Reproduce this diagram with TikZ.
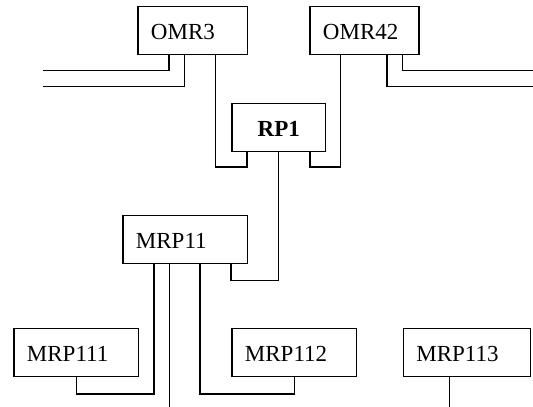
\documentclass[tikz,border=0pt]{standalone}
\usepackage{fontspec}
\setmainfont{Liberation Serif}
\begin{document}
\begin{tikzpicture}[x=1pt,y=-1pt,
  box/.style={draw, line width=1.3pt, anchor=north west, inner xsep=13pt, inner ysep=0pt,
    minimum height=48pt, text height=18.6pt, text depth=0pt, align=left,
    font=\fontsize{23}{27}\selectfont},
  wire/.style={line width=1.2pt}]
\useasboundingbox (0,0) rectangle (533,407);
\node[box, text width=83.7pt] (omr3) at (137.3,6) {OMR3};
\node[box, text width=83pt] (omr42) at (309.3,6) {OMR42};
\node[box, text width=67.7pt, align=center, font=\fontsize{23}{27}\selectfont\bfseries] (rp1) at (231.3,103) {RP1};
\node[box, text width=98.7pt] (mrp11) at (122.3,215) {MRP11};
\node[box, text width=98.4pt] (mrp111) at (13.3,327.7) {MRP111};
\node[box, text width=98.7pt] (mrp112) at (231.3,327.7) {MRP112};
\node[box, text width=101.3pt] (mrp113) at (402.7,327.7) {MRP113};
\coordinate (l1) at (43.3,70.7);
\coordinate (l2) at (43.3,86.7);
\coordinate (r1) at (533,70.7);
\coordinate (r2) at (533,86.7);
\coordinate (b1) at (169.3,407);
\coordinate (b2) at (449.7,407);
\draw[wire] ([xshift=31.7pt]omr3.south west) |- (l1);
\draw[wire] ([xshift=47pt]omr3.south west) |- (l2);
\draw[wire] ([xshift=78.4pt]omr3.south west) -- ++(0,111.7) -| ([xshift=15.7pt]rp1.south west);
\draw[wire] ([xshift=78.7pt]rp1.south west) -- ++(0,14.7) -| ([xshift=31pt]omr42.south west);
\draw[wire] ([xshift=77.7pt]omr42.south west) |- (r2);
\draw[wire] ([xshift=93.4pt]omr42.south west) |- (r1);
\draw[wire] (rp1.south) -- ++(0,128) -| ([xshift=108.7pt]mrp11.south west);
\draw[wire] ([xshift=31.7pt]mrp11.south west) -- ++(0,129.6) -| (mrp111.south);
\draw[wire] ([xshift=47pt]mrp11.south west) -- (b1);
\draw[wire] ([xshift=77.7pt]mrp11.south west) -- ++(0,129.6) -| (mrp112.south);
\draw[wire] ([xshift=47pt]mrp113.south west) -- (b2);
\end{tikzpicture}
\end{document}
